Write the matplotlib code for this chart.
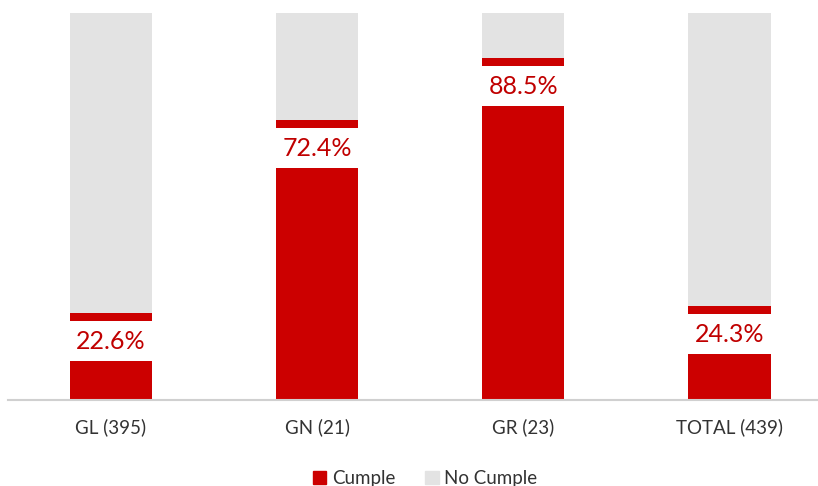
import numpy as np
import matplotlib.pyplot as plt
from matplotlib.patches import Patch

plt.rcParams['font.family'] = ['Lato', 'DejaVu Sans']

categories = ['GL (395)', 'GN (21)', 'GR (23)', 'TOTAL (439)']
cumple = [22.6, 72.4, 88.5, 24.3]
no_cumple = [100 - v for v in cumple]

red = '#CC0000'
grey = '#E3E3E3'
txt_red = '#C00000'

fig = plt.figure(figsize=(8.18, 4.86), dpi=100)
ax = fig.add_axes([8 / 818, 86 / 486, 810 / 818, 387 / 486])

x = np.arange(len(categories))
w = 0.40
ax.bar(x, cumple, w, color=red)
ax.bar(x, no_cumple, w, bottom=cumple, color=grey)

# white gap behind the value label (Excel style label box)
px = 100 / 387  # one pixel in data units
vals = np.array(cumple)
ax.bar(x, 40 * px, w + 0.02, bottom=vals - 48 * px, color='white')
for xi, v in zip(x, cumple):
    ax.text(xi, v - 28.5 * px, f'{v:.1f}%', ha='center', va='center',
            fontsize=18, color=txt_red)

ax.set_xlim(-0.5, 3.43)
ax.set_ylim(0, 100)
ax.set_xticks(x)
ax.set_xticklabels(categories, fontsize=13.5, color='#333333')
ax.tick_params(axis='x', length=0, pad=13)
ax.set_yticks([])
for s in ['top', 'left', 'right']:
    ax.spines[s].set_visible(False)
ax.spines['bottom'].set_color('#D0D0D0')
ax.spines['bottom'].set_linewidth(1.5)

handles = [Patch(color=red, label='Cumple'), Patch(color=grey, label='No Cumple')]
fig.legend(handles=handles, loc='center', bbox_to_anchor=(0.52, 0.016), ncol=2,
           frameon=False, fontsize=13.5, handlelength=0.7, handleheight=0.7,
           handletextpad=0.3, columnspacing=1.6, labelcolor='#333333')

fig.savefig('out.png', dpi=100)
